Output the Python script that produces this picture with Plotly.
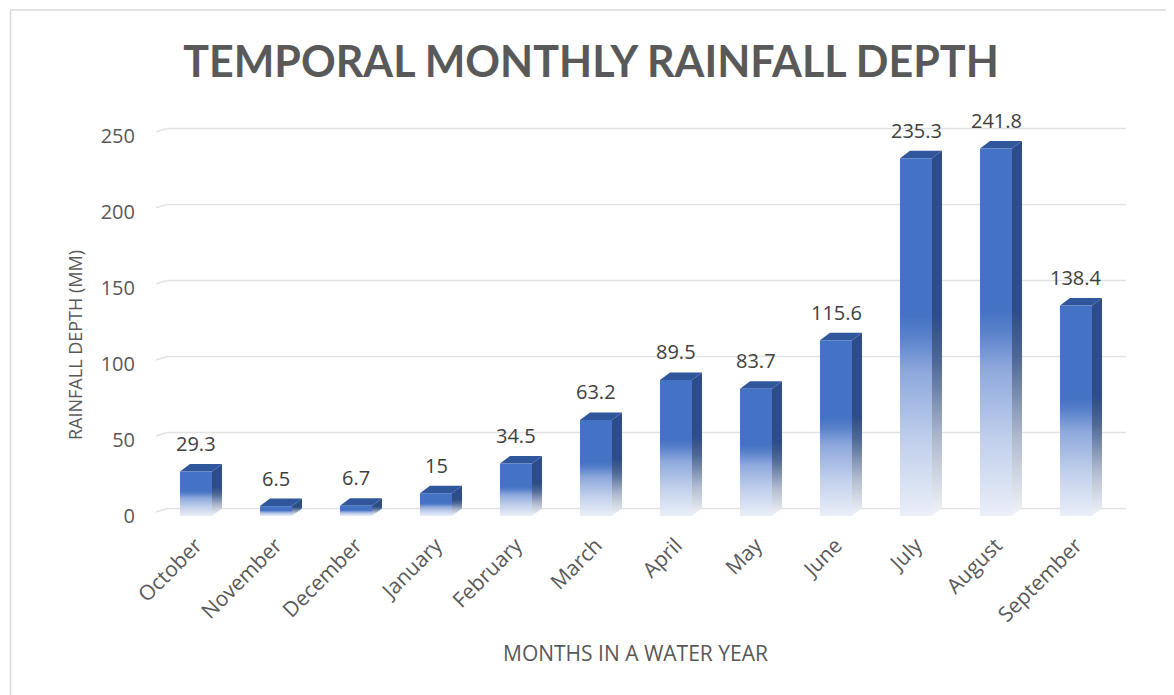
import plotly.graph_objects as go

# ---- data ----
MONTHS = ["October", "November", "December", "January", "February", "March",
          "April", "May", "June", "July", "August", "September"]
RAINFALL = [29.3, 6.5, 6.7, 15, 34.5, 63.2, 89.5, 83.7, 115.6, 235.3, 241.8, 138.4]
Y_TICKS = [0, 50, 100, 150, 200, 250]

TITLE = "TEMPORAL MONTHLY RAINFALL DEPTH"
X_TITLE = "MONTHS IN A WATER YEAR"
Y_TITLE = "RAINFALL DEPTH (MM)"

# ---- style ----
HALF_W = 0.2        # half width of a column front face (category units)
DEPTH_X = 0.125     # 3D depth offset in x (category units)
DEPTH_Y = 4.93      # 3D depth offset in y (value units)
X_MIN, X_MAX = -0.5, 11.625
Y_MAX = 269.7
TEXT = "#595959"
FONT = "Open Sans"

# page body has an 8px margin: figure pixel = page pixel - 8
OFF = 8
W, H = 1174 - OFF, 695 - OFF
L, R, T, B = 156 - OFF, 48, 106 - OFF, H - (516 - OFF)
PW, PH = W - L - R, H - T - B

FRONT_SCALE = [[0.0, "#EAEFF9"], [0.2, "#C3D1EC"], [0.4, "#8FA9DD"],
               [0.5, "#5A82CB"], [0.56, "#4472C4"], [1.0, "#4472C4"]]
SIDE_SCALE = [[0.0, "#F2F3F7"], [0.2, "#B3BDD0"], [0.42, "#4F6896"],
              [0.55, "#2E4D86"], [1.0, "#2E4D86"]]
TOP_COLOR = "#30579C"

fig = go.Figure()

# back-wall gridlines (offset by depth, with small floor slant at the left)
gx, gy = [], []
for t in Y_TICKS:
    gx += [X_MIN, X_MIN + 0.1375, X_MAX, None]
    gy += [t + 2.7, t + DEPTH_Y, t + DEPTH_Y, None]
fig.add_trace(go.Scatter(x=gx, y=gy, mode="lines",
                         line=dict(color="#E3E3E3", width=1.6),
                         hoverinfo="skip", showlegend=False))

for i, v in enumerate(RAINFALL):
    xl, xr = i - HALF_W, i + HALF_W
    # side face
    fig.add_trace(go.Scatter(
        x=[xr, xr + DEPTH_X, xr + DEPTH_X, xr, xr],
        y=[0, DEPTH_Y, v + DEPTH_Y, v, 0],
        mode="lines", fill="toself", line=dict(width=0),
        fillgradient=dict(type="vertical", colorscale=SIDE_SCALE),
        hoverinfo="skip", showlegend=False))
    # top face
    fig.add_trace(go.Scatter(
        x=[xl, xr, xr + DEPTH_X, xl + DEPTH_X, xl],
        y=[v, v, v + DEPTH_Y, v + DEPTH_Y, v],
        mode="lines", fill="toself", line=dict(width=0),
        fillcolor=TOP_COLOR, hoverinfo="skip", showlegend=False))
    # front face
    fig.add_trace(go.Scatter(
        x=[xl, xr, xr, xl, xl],
        y=[0, 0, v, v, 0],
        mode="lines", fill="toself", line=dict(width=0),
        fillgradient=dict(type="vertical", colorscale=FRONT_SCALE),
        name=MONTHS[i], hoverinfo="skip", showlegend=False))

# data labels
label_annotations = [
    dict(x=i, y=v + DEPTH_Y, xref="x", yref="y", text=f"{v:g}",
         showarrow=False, xanchor="center", yanchor="bottom", yshift=5,
         font=dict(family=FONT, size=20, color="#404040"))
    for i, v in enumerate(RAINFALL)
]

fig.update_layout(
    width=W, height=H,
    margin=dict(l=L, r=R, t=T, b=B),
    paper_bgcolor="white", plot_bgcolor="white",
    font=dict(family=FONT, color=TEXT),
    title=dict(text=f"<b>{TITLE}</b>", x=(591 - OFF) / W, xref="container",
               y=1 - (62 - OFF) / H, yref="container",
               xanchor="center", yanchor="middle",
               font=dict(family="Lato", size=43, color=TEXT)),
    xaxis=dict(range=[X_MIN, X_MAX], tickmode="array",
               tickvals=list(range(len(MONTHS))), ticktext=MONTHS,
               tickangle=-45, showgrid=False, zeroline=False, showline=False,
               ticks="", ticklabelstandoff=12,
               tickfont=dict(size=21, color=TEXT)),
    yaxis=dict(range=[0, Y_MAX], tickmode="array", tickvals=Y_TICKS,
               showgrid=False, zeroline=False, showline=False, ticks="",
               ticklabelstandoff=20, tickfont=dict(size=20, color=TEXT)),
    annotations=label_annotations + [
        dict(text=X_TITLE, xref="paper", yref="paper",
             x=(635 - 156) / PW, y=(516 - 653) / PH,
             showarrow=False, xanchor="center", yanchor="middle",
             font=dict(size=21, color=TEXT)),
        dict(text=Y_TITLE, xref="paper", yref="paper",
             x=(75 - 156) / PW, y=(516 - 345) / PH, textangle=-90,
             showarrow=False, xanchor="center", yanchor="middle",
             font=dict(size=18, color=TEXT)),
    ],
    shapes=[dict(type="rect", xref="paper", yref="paper",
                 x0=(OFF - 7 - L + 1.5) / PW, x1=1.3,
                 y0=-0.6, y1=(516 - 10) / PH,
                 line=dict(color="#D9D9D9", width=1.5), layer="below")],
    hovermode=False,
)

fig.write_html("out.html")
